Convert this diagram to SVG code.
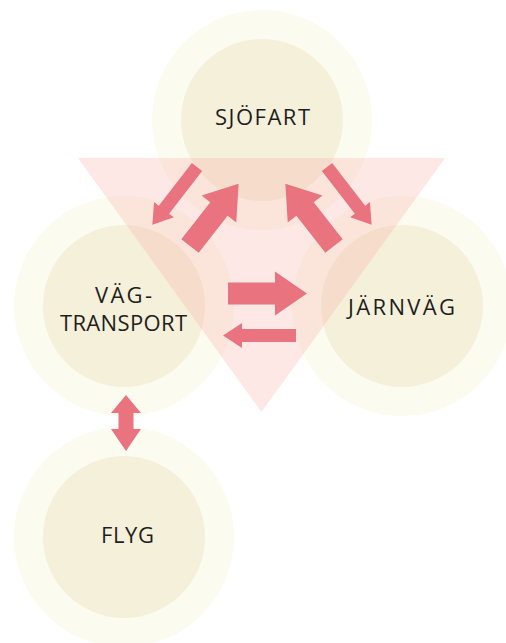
<svg xmlns="http://www.w3.org/2000/svg" width="506" height="643" viewBox="0 0 506 643">
  <style>
    .outer { fill: #fcfbef; }
    .inner { fill: #f5f0da; }
    .tri { fill: #f9b2aa; fill-opacity: 0.3; }
    .arrow { fill: #e9737f; }
    .label { font-family: "Open Sans", "Liberation Sans", sans-serif; font-size: 22px; fill: #1e1e1e; text-anchor: middle; }
  </style>
  <defs>
    <path id="bigArrow" d="M0,-11 L47,-11 L47,-22 L79,0 L47,22 L47,11 L0,11 Z"/>
    <path id="smallArrow" d="M0,-6.5 L54,-6.5 L54,-12.5 L73,0 L54,12.5 L54,6.5 L0,6.5 Z"/>
  </defs>
  <rect width="506" height="643" fill="#ffffff"/>

  <g id="node-sjofart">
    <circle class="outer" cx="262" cy="120" r="110"/>
    <circle class="inner" cx="262" cy="120" r="81"/>
  </g>
  <g id="node-vagtransport">
    <circle class="outer" cx="124" cy="306" r="110"/>
    <circle class="inner" cx="124" cy="306" r="81"/>
  </g>
  <g id="node-jarnvag">
    <circle class="outer" cx="402" cy="306" r="110"/>
    <circle class="inner" cx="402" cy="306" r="81"/>
  </g>
  <g id="node-flyg">
    <circle class="outer" cx="124" cy="537" r="110"/>
    <circle class="inner" cx="124" cy="537" r="81"/>
  </g>

  <g id="triangle">
    <polygon class="tri" points="78,158 445,158 261.5,412"/>
  </g>

  <g id="connectors" class="arrow">
    <use href="#smallArrow" transform="translate(197,167) rotate(127.7)"/>
    <use href="#bigArrow" transform="translate(190,246) rotate(-52)"/>
    <use href="#bigArrow" transform="translate(334,246) rotate(-128)"/>
    <use href="#smallArrow" transform="translate(327,167) rotate(52.3)"/>
    <use href="#bigArrow" transform="translate(228,293.5)"/>
    <use href="#smallArrow" transform="translate(296,335.5) rotate(180)"/>
    <path d="M126,395 L141,413 L133.5,413 L133.5,429 L141,429 L126,451 L111,429 L118.5,429 L118.5,413 L111,413 Z"/>
  </g>

  <g id="labels">
    <text class="label" x="262.5" y="125" textLength="95" lengthAdjust="spacing">SJÖFART</text>
    <text class="label" x="123.5" y="303" textLength="57" lengthAdjust="spacing">VÄG-</text>
    <text class="label" x="123.5" y="331" textLength="127" lengthAdjust="spacing">TRANSPORT</text>
    <text class="label" x="401.5" y="315" textLength="107" lengthAdjust="spacing">JÄRNVÄG</text>
    <text class="label" x="127.5" y="543" textLength="53" lengthAdjust="spacing">FLYG</text>
  </g>
</svg>
